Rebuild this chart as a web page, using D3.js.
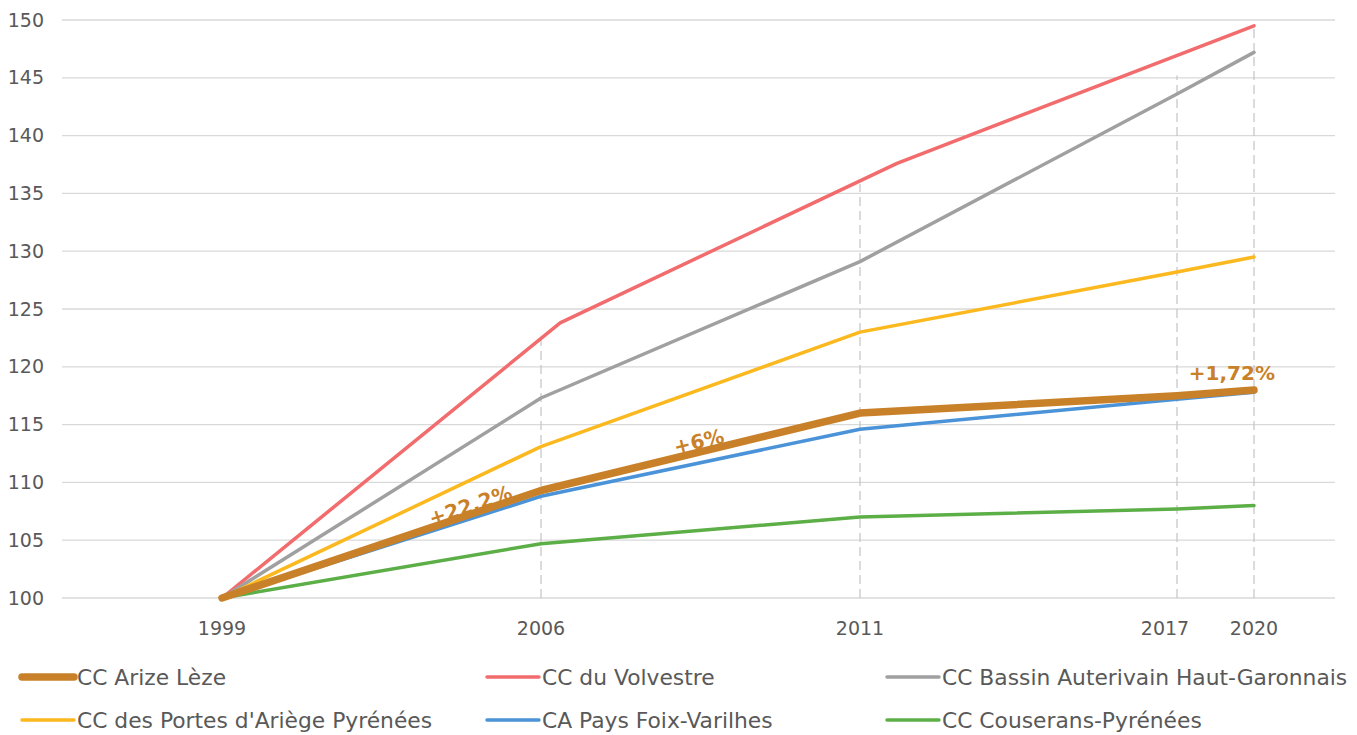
<!DOCTYPE html>
<html>
<head>
<meta charset="utf-8">
<script src="https://cdn.jsdelivr.net/npm/d3@7"></script>
<style>
  html, body { margin: 0; padding: 0; background: #ffffff; }
  svg { display: block; font-family: "DejaVu Sans", sans-serif; }
</style>
</head>
<body>
<svg id="chart" width="1357" height="735"></svg>
<script>
// Population index (base 100 in 1999)
const years = [1999, 2006, 2011, 2017, 2020];
const yTicks = [100, 105, 110, 115, 120, 125, 130, 135, 140, 145, 150];

const seriesNames = [
  "CC Arize Lèze",
  "CC du Volvestre",
  "CC Bassin Auterivain Haut-Garonnais",
  "CC des Portes d'Ariège Pyrénées",
  "CA Pays Foix-Varilhes",
  "CC Couserans-Pyrénées"
];
const seriesColors = ["#c98129", "#f26b6d", "#a0a0a0", "#fbb81f", "#4b93d8", "#5cae47"];

// year positions of each series' points
const arizeYears = years;
const arizeValues = [100, 109.3, 116.0, 117.5, 118.0];
const volvestreYears = [1999, 2006.3, 2011.7, 2020];
const volvestreValues = [100, 123.8, 137.6, 149.5];
const auterivainYears = years;
const auterivainValues = [100, 117.3, 129.1, 143.6, 147.2];
const portesYears = years;
const portesValues = [100, 113.1, 123.0, 128.2, 129.5];
const foixYears = years;
const foixValues = [100, 108.8, 114.6, 117.2, 117.8];
const couseransYears = years;
const couseransValues = [100, 104.7, 107.0, 107.7, 108.0];

// growth annotations on the CC Arize Lèze line
const noteTexts = ["+22,2%", "+6%", "+1,72%"];
const noteYears = [2004.5, 2008.5, 2019.14];
const noteValues = [107.45, 112.95, 118.85];

const series = [
  { years: arizeYears, values: arizeValues },
  { years: volvestreYears, values: volvestreValues },
  { years: auterivainYears, values: auterivainValues },
  { years: portesYears, values: portesValues },
  { years: foixYears, values: foixValues },
  { years: couseransYears, values: couseransValues }
].map((s, i) => ({ name: seriesNames[i], color: seriesColors[i], ...s,
  points: s.years.map((yr, j) => ({ year: yr, value: s.values[j] })) }));

const svg = d3.select("#chart");
const plotLeft = 62, plotRight = 1335, plotTop = 20, plotBottom = 598;

const x = d3.scaleLinear()
  .domain(years)
  .range([222, 541, 860, 1177, 1254]);
const y = d3.scaleLinear().domain([100, 150]).range([plotBottom, plotTop]);

const textColor = "#595959";

// horizontal gridlines
svg.append("g")
  .selectAll("line")
  .data(yTicks)
  .join("line")
  .attr("x1", plotLeft).attr("x2", plotRight)
  .attr("y1", d => y(d)).attr("y2", d => y(d))
  .attr("stroke", "#d9d9d9")
  .attr("stroke-width", 1.3);

// y axis labels
const yAxis = svg.append("g")
  .attr("transform", `translate(${plotLeft - 18},0)`)
  .call(d3.axisLeft(y).tickValues(yTicks).tickSize(0).tickPadding(0));
yAxis.select(".domain").remove();
yAxis.selectAll("text")
  .attr("fill", textColor)
  .style("font-size", "19px")
  .style("font-family", "'DejaVu Sans', sans-serif");

// drop lines from the highest series down to the base
const interp = series.map(s => d3.scaleLinear().domain(s.years).range(s.values));
svg.append("g")
  .selectAll("line")
  .data(years.slice(1))
  .join("line")
  .attr("x1", d => x(d)).attr("x2", d => x(d))
  .attr("y1", plotBottom)
  .attr("y2", d => y(d3.max(interp, f => f(d))))
  .attr("stroke", "#c4c4c4")
  .attr("stroke-width", 1.2)
  .attr("stroke-dasharray", "9,5");

// x axis labels
const xLabelShift = { 2017: -12 };
svg.append("g")
  .selectAll("text")
  .data(years)
  .join("text")
  .attr("x", d => x(d) + (xLabelShift[d] || 0))
  .attr("y", 635)
  .attr("text-anchor", "middle")
  .attr("fill", textColor)
  .style("font-size", "19px")
  .text(d => d);

// series lines (thick Arize Lèze line drawn last, on top)
const line = d3.line()
  .x(d => x(d.year))
  .y(d => y(d.value));

const drawOrder = [1, 2, 3, 5, 4, 0];
svg.append("g")
  .selectAll("path")
  .data(drawOrder.map(i => series[i]))
  .join("path")
  .attr("d", d => line(d.points))
  .attr("fill", "none")
  .attr("stroke", d => d.color)
  .attr("stroke-width", d => d.name === seriesNames[0] ? 7.5 : 3.5)
  .attr("stroke-linecap", "round")
  .attr("stroke-linejoin", "round");

// annotations
const slope = (p0, p1) => Math.atan2(y(p1.value) - y(p0.value), x(p1.year) - x(p0.year)) * 180 / Math.PI;
const arize = series[0].points;
const noteAngles = [slope(arize[0], arize[1]), slope(arize[1], arize[2]), 0];
svg.append("g")
  .selectAll("text")
  .data(noteTexts)
  .join("text")
  .attr("transform", (d, i) => `translate(${x(noteYears[i])},${y(noteValues[i])}) rotate(${noteAngles[i]})`)
  .attr("text-anchor", "middle")
  .attr("fill", seriesColors[0])
  .style("font-size", "20px")
  .style("font-weight", "bold")
  .text(d => d);

// legend: three columns, two rows
const legendCols = [20, 485, 885];
const legendRows = [677, 720];
const legend = svg.append("g")
  .selectAll("g")
  .data(series)
  .join("g")
  .attr("transform", (d, i) => `translate(${legendCols[i % 3]},${legendRows[Math.floor(i / 3)]})`);
legend.append("line")
  .attr("x1", 2).attr("x2", 54)
  .attr("stroke", d => d.color)
  .attr("stroke-width", (d, i) => i === 0 ? 7.5 : 3.5)
  .attr("stroke-linecap", "round");
legend.append("text")
  .attr("x", 57)
  .attr("dy", "0.35em")
  .attr("fill", textColor)
  .style("font-size", "21.8px")
  .text(d => d.name);
</script>
</body>
</html>
